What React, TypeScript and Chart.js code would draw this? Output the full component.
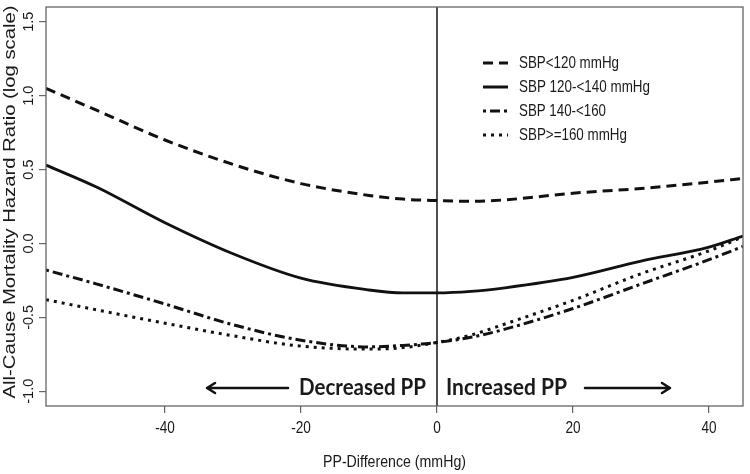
import React, { useEffect, useRef } from "react";
import { Chart, registerables } from "chart.js";

Chart.register(...registerables);

// ---- data ----
const xValues = [-57.5, -50, -40, -30, -20, -10, -5, 0, 5, 10, 20, 30, 40, 45];
const sbpLt120 = [1.05, 0.9, 0.7, 0.535, 0.405, 0.325, 0.3, 0.29, 0.285, 0.295, 0.34, 0.372, 0.415, 0.44];
const sbp120to140 = [0.53, 0.38, 0.14, -0.07, -0.235, -0.315, -0.335, -0.335, -0.325, -0.3, -0.23, -0.12, -0.025, 0.05];
const sbp140to160 = [-0.18, -0.275, -0.41, -0.55, -0.655, -0.7, -0.69, -0.67, -0.635, -0.58, -0.44, -0.275, -0.11, -0.02];
const sbpGe160 = [-0.38, -0.45, -0.54, -0.625, -0.695, -0.715, -0.705, -0.67, -0.62, -0.545, -0.385, -0.205, -0.05, 0.045];

const seriesLabels = ["SBP<120 mmHg", "SBP 120-<140 mmHg", "SBP 140-<160", "SBP>=160 mmHg"];
const seriesDashes: number[][] = [[10, 6], [], [3, 4, 10, 4], [3, 5]];
const seriesValues = [sbpLt120, sbp120to140, sbp140to160, sbpGe160];

const xTicks = [-40, -20, 0, 20, 40];
const yTicks = [-1.0, -0.5, 0.0, 0.5, 1.0, 1.5];
const xTickLabels = ["-40", "-20", "0", "20", "40"];
const yTickLabels = ["-1.0", "-0.5", "0.0", "0.5", "1.0", "1.5"];

const xTitle = "PP-Difference (mmHg)";
const yTitle = "All-Cause Mortality Hazard Ratio (log scale)";
const leftNote = "Decreased PP";
const rightNote = "Increased PP";

const TEXT = "#1a1a1a";
const FRAME = "#666666";
const legendTextWidths = [100, 131, 87, 108];

function drawScaled(ctx: CanvasRenderingContext2D, text: string, x: number, y: number, font: string, sx: number, align: CanvasTextAlign) {
  ctx.save();
  ctx.font = font;
  ctx.translate(x, y);
  ctx.scale(sx, 1);
  ctx.textAlign = align;
  ctx.textBaseline = "middle";
  ctx.fillText(text, 0, 0);
  ctx.restore();
}

function drawFitted(ctx: CanvasRenderingContext2D, text: string, x: number, y: number, font: string, width: number, align: CanvasTextAlign) {
  ctx.save();
  ctx.font = font;
  const w = ctx.measureText(text).width;
  ctx.restore();
  drawScaled(ctx, text, x, y, font, width / w, align);
}

const decorPlugin = {
  id: "decor",
  beforeDatasetsDraw(chart: any) {
    const ctx: CanvasRenderingContext2D = chart.ctx;
    const { top, bottom } = chart.chartArea;
    const xs = chart.scales.x;
    ctx.save();
    const x0 = xs.getPixelForValue(0);
    ctx.strokeStyle = "#222";
    ctx.lineWidth = 1.6;
    ctx.beginPath();
    ctx.moveTo(x0, top);
    ctx.lineTo(x0, bottom);
    ctx.stroke();
    ctx.restore();
  },
  afterDraw(chart: any) {
    const ctx: CanvasRenderingContext2D = chart.ctx;
    const { left, right, top, bottom } = chart.chartArea;
    const xs = chart.scales.x;
    const ys = chart.scales.y;
    ctx.save();
    ctx.strokeStyle = FRAME;
    ctx.lineWidth = 1.3;
    ctx.strokeRect(left, top, right - left, bottom - top);

    ctx.fillStyle = TEXT;
    xTicks.forEach((v, i) => {
      drawScaled(ctx, xTickLabels[i], xs.getPixelForValue(v), 428, "17px 'Liberation Sans', Arial, sans-serif", 0.8, "center");
    });
    yTicks.forEach((v, i) => {
      ctx.save();
      ctx.translate(29, ys.getPixelForValue(v));
      ctx.rotate(-Math.PI / 2);
      ctx.font = "14.5px 'Liberation Sans', Arial, sans-serif";
      ctx.textAlign = "center";
      ctx.textBaseline = "middle";
      ctx.fillText(yTickLabels[i], 0, 0);
      ctx.restore();
    });
    drawFitted(ctx, xTitle, (left + right) / 2, 462, "17px 'Liberation Sans', Arial, sans-serif", 143, "center");
    ctx.save();
    ctx.translate(10, 202);
    ctx.rotate(-Math.PI / 2);
    drawFitted(ctx, yTitle, 0, 0, "17px 'Liberation Sans', Arial, sans-serif", 393, "center");
    ctx.restore();

    const legendRows = [63, 87, 111, 135];
    seriesLabels.forEach((lab, i) => {
      const y = legendRows[i];
      ctx.save();
      ctx.strokeStyle = "#111";
      ctx.lineWidth = 3;
      ctx.setLineDash(seriesDashes[i]);
      ctx.beginPath();
      ctx.moveTo(483, y);
      ctx.lineTo(508, y);
      ctx.stroke();
      ctx.restore();
      drawFitted(ctx, lab, 519, y, "16.5px 'Liberation Sans', Arial, sans-serif", legendTextWidths[i], "left");
    });

    const ay = 388;
    drawFitted(ctx, leftNote, 426, ay, "bold 22px Lato, 'Liberation Sans', sans-serif", 127, "right");
    drawFitted(ctx, rightNote, 446, ay, "bold 22px Lato, 'Liberation Sans', sans-serif", 121, "left");
    ctx.strokeStyle = "#111";
    ctx.lineWidth = 2.5;
    ctx.lineCap = "round";
    ctx.lineJoin = "round";
    ctx.beginPath();
    ctx.moveTo(288, ay);
    ctx.lineTo(207, ay);
    ctx.moveTo(215, ay - 5);
    ctx.lineTo(207, ay);
    ctx.lineTo(215, ay + 5);
    ctx.stroke();
    ctx.beginPath();
    ctx.moveTo(585, ay);
    ctx.lineTo(670, ay);
    ctx.moveTo(662, ay - 5);
    ctx.lineTo(670, ay);
    ctx.lineTo(662, ay + 5);
    ctx.stroke();
    ctx.restore();
  },
};

export default function App() {
  const canvasRef = useRef<HTMLCanvasElement | null>(null);

  useEffect(() => {
    if (!canvasRef.current) return;
    const datasets = seriesValues.map((vals, i) => ({
      label: seriesLabels[i],
      data: xValues.map((x, j) => ({ x, y: vals[j] })),
      borderColor: "#111111",
      borderWidth: i === 1 ? 2.8 : 3,
      borderDash: seriesDashes[i],
      pointRadius: 0,
      fill: false,
      cubicInterpolationMode: "monotone" as const,
    }));
    const chart = new Chart(canvasRef.current, {
      type: "line",
      data: { datasets },
      options: {
        animation: false,
        responsive: false,
        devicePixelRatio: 1,
        layout: { padding: { top: 7, right: 7, left: 0, bottom: 0 } },
        plugins: { legend: { display: false }, tooltip: { enabled: false } },
        scales: {
          x: {
            type: "linear",
            min: -57.5,
            max: 45,
            afterBuildTicks: (s: any) => {
              s.ticks = xTicks.map((v) => ({ value: v }));
            },
            afterFit: (s: any) => {
              s.height = 68;
            },
            ticks: { display: false },
            border: { display: false },
            grid: { display: true, drawOnChartArea: false, drawTicks: true, tickLength: 7, color: FRAME, lineWidth: 1.2 },
          },
          y: {
            type: "linear",
            min: -1.1,
            max: 1.6,
            afterBuildTicks: (s: any) => {
              s.ticks = yTicks.map((v) => ({ value: v }));
            },
            afterFit: (s: any) => {
              s.width = 46;
            },
            ticks: { display: false },
            border: { display: false },
            grid: { display: true, drawOnChartArea: false, drawTicks: true, tickLength: 7, color: FRAME, lineWidth: 1.2 },
          },
        },
      },
      plugins: [decorPlugin],
    });
    return () => chart.destroy();
  }, []);

  return (
    <div style={{ position: "absolute", left: 0, top: 0, width: 750, height: 474, background: "#fff" }}>
      <canvas ref={canvasRef} width={750} height={474} style={{ display: "block" }} />
    </div>
  );
}
